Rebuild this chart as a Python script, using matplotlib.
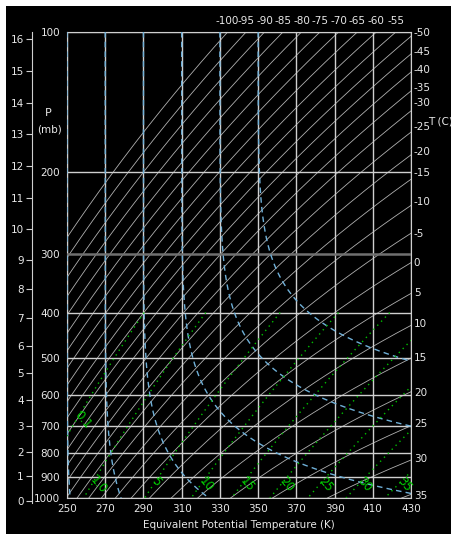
import numpy as np
import matplotlib
matplotlib.use("Agg")
import matplotlib.pyplot as plt
from matplotlib.patches import Rectangle
from matplotlib.ticker import NullLocator

# grid of the diagram
pres_levels = [100, 200, 300, 400, 500, 600, 700, 800, 900, 1000]      # mb
thetae_ticks = [250, 270, 290, 310, 330, 350, 370, 390, 410, 430]      # K

# line families
isotherms = [-100, -95, -90, -85, -80, -75, -70, -65, -60, -55, -50, -45, -40, -35,
             -30, -25, -20, -15, -10, -5, 0, 5, 10, 15, 20, 25, 30, 35]  # C
dry_adiabats = [250, 270, 290, 310, 330, 350]                           # K
mix_ratios = [0.1, 1.0, 5, 10, 15, 20, 25, 30, 35]                      # g/kg
mix_labels = ["0.1", "1.0", "5", "10", "15", "20", "25", "30", "35"]
mix_label_p = [655, 905, 910, 910, 910, 910, 910, 910, 910]             # mb

# temperature labels along the top (at 100 mb) and right side (at 430 K)
top_t = [-100, -95, -90, -85, -80, -75, -70, -65, -60, -55]
right_t = [-50, -45, -40, -35, -30, -25, -20, -15, -10, -5, 0, 5, 10, 15, 20, 25, 30, 35]
right_p = [100, 110, 120, 131, 141, 159, 180, 200, 231, 270, 312, 361, 421, 498, 592, 690, 821, 985]

# height scale (km) vs standard atmosphere pressure (mb)
height_km = list(range(0, 17))
height_p = [1013.25, 898.7, 795.0, 701.1, 616.6, 540.5, 472.2, 411.1, 356.5,
            308.0, 265.0, 227.0, 194.0, 165.8, 141.7, 121.1, 103.5]


def esat(tc):
    return 6.112 * np.exp(17.67 * tc / (tc + 243.5))


def thetae(tk, p):
    # Bolton (1980), saturated parcel
    es = esat(tk - 273.15)
    r = 622.0 * es / (p - es)
    return tk * (1000.0 / p) ** (0.2854 * (1 - 0.00028 * r)) * \
        np.exp((3.376 / tk - 0.00254) * r * (1 + 0.00081 * r))


def mix_temp(w, p):
    es = p * w / (622.0 + w)
    l = np.log(es / 6.112)
    return 243.5 * l / (17.67 - l) + 273.15


W, H = 452, 534
fig = plt.figure(figsize=(W / 100, H / 100), dpi=100)
fig.patch.set_facecolor("white")
fig.add_artist(Rectangle((6 / W, -0.1), 1.2, 1.1 - 6 / H, transform=fig.transFigure,
                         facecolor="black", edgecolor="none", zorder=-5))

txt = "#e8e8e8"
grid = "#cfcfcf"
fs = 7.5

left, right, top, bot = 67, 411, 32, 498
ax = fig.add_axes([left / W, 1 - bot / H, (right - left) / W, (bot - top) / H])
ax.set_facecolor("none")
ax.set_yscale("log")
ax.set_xlim(250, 430)
ax.set_ylim(1000, 100)

p = np.geomspace(100, 1000, 400)

# isotherms
for t in isotherms:
    ax.plot(thetae(t + 273.15, p), p, color="#b0b0b0", lw=0.6, zorder=2)

# grid
for x in thetae_ticks:
    ax.axvline(x, color=grid, lw=1.0, zorder=3)
for pl in pres_levels:
    if pl == 300:
        ax.axhline(pl, color="#707070", lw=1.8, zorder=3)
    else:
        ax.axhline(pl, color=grid, lw=1.0, zorder=3)

# dry adiabats
for th in dry_adiabats:
    tk = th * (p / 1000.0) ** 0.2854
    ax.plot(thetae(tk, p), p, color="#6fb0d8", lw=1.0, ls=(0, (4, 3)), zorder=4)

# saturation mixing ratio lines
pm = np.geomspace(400, 1000, 200)
for w, lab, pl in zip(mix_ratios, mix_labels, mix_label_p):
    ax.plot(thetae(mix_temp(w, pm), pm), pm, color="#00c000", lw=1.0,
            ls=(0, (1, 3)), zorder=5)
    xl = thetae(mix_temp(w, pl), pl)
    ax.text(xl - 2, pl, lab, color="#00d000", fontsize=8.5, rotation=-50,
            rotation_mode="anchor", ha="left", va="center", zorder=6)

for s in ax.spines.values():
    s.set_color(grid)

ax.set_xticks(thetae_ticks)
ax.set_xticklabels([str(v) for v in thetae_ticks])
ax.set_yticks(pres_levels)
ax.set_yticklabels([str(v) for v in pres_levels])
ax.yaxis.set_minor_locator(NullLocator())
ax.tick_params(axis="both", length=0, colors=txt, labelsize=fs)
ax.tick_params(axis="y", pad=5)
ax.tick_params(axis="x", pad=4)
ax.set_xlabel("Equivalent Potential Temperature (K)", color=txt, fontsize=fs, labelpad=5)

# top labels
axt = ax.secondary_xaxis("top")
axt.set_xticks([thetae(t + 273.15, 100.0) for t in top_t])
axt.set_xticklabels([str(t) for t in top_t])
axt.tick_params(length=0, colors=txt, labelsize=fs, pad=4)
axt.spines["top"].set_visible(False)

# right labels
axr = ax.twinx()
axr.set_yscale("log")
axr.set_ylim(1000, 100)
axr.set_yticks(right_p)
axr.set_yticklabels([str(t) for t in right_t])
axr.yaxis.set_minor_locator(NullLocator())
axr.tick_params(length=0, colors=txt, labelsize=fs, pad=2)
for s in axr.spines.values():
    s.set_visible(False)
fig.text(428 / W, 1 - 121 / H, "T (C)", color=txt, fontsize=fs, ha="left", va="center")

# height scale
k = (bot - top) / np.log(10)
hb = 503
axh = fig.add_axes([32 / W, 1 - hb / H, 0.0001, (hb - top) / H])
axh.set_facecolor("none")
axh.set_yscale("log")
axh.set_ylim(1000 * np.exp((hb - bot) / k), 100)
axh.set_yticks(height_p)
axh.set_yticklabels([str(h) for h in height_km])
axh.yaxis.set_minor_locator(NullLocator())
axh.set_xticks([])
for name, s in axh.spines.items():
    s.set_visible(name == "left")
axh.spines["left"].set_color(grid)
axh.tick_params(axis="y", direction="out", length=4, color=grid, colors=txt,
                labelsize=fs, pad=2)
axh.tick_params(axis="y", color=grid)

fig.text(48 / W, 1 - 113 / H, "P", color=txt, fontsize=fs + 0.5, ha="center", va="center")
fig.text(50 / W, 1 - 130 / H, "(mb)", color=txt, fontsize=fs, ha="center", va="center")

fig.savefig("out.png", dpi=100, facecolor=fig.get_facecolor())
